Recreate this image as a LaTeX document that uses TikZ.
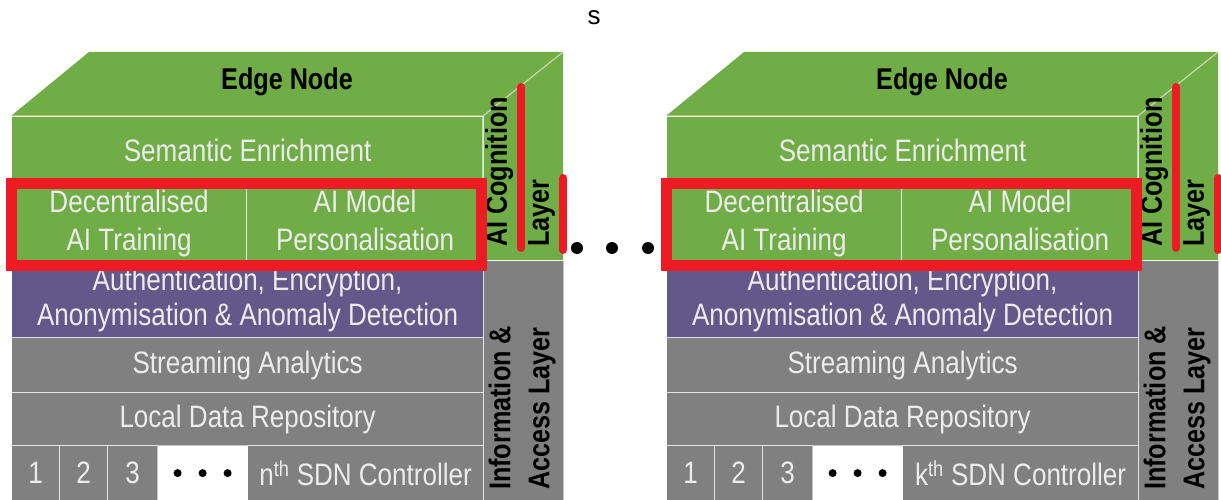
\documentclass[tikz,border=0pt]{standalone}
\usepackage{fontspec}
\setmainfont{Liberation Sans}
\newfontfamily\narrowfont[FakeStretch=0.84]{Liberation Sans}

\definecolor{edgegreen}{RGB}{112,173,71}
\definecolor{secpurple}{RGB}{98,88,138}
\definecolor{layergray}{RGB}{128,128,128}
\definecolor{markred}{RGB}{237,28,36}
\definecolor{labelgray}{RGB}{236,236,236}

\tikzset{
  cell/.style={rectangle, draw=white, draw opacity=0.55, line width=1.2pt,
    inner sep=0pt, anchor=north west, text=labelgray, align=center,
    font={\narrowfont\fontsize{31}{38}\selectfont}},
  edgeline/.style={draw=white, draw opacity=0.55, line width=1.2pt},
  sidelabel/.style={rotate=90, inner sep=0pt, align=left, text=black,
    font={\narrowfont\bfseries\fontsize{30}{42}\selectfont}},
  toplabel/.style={inner sep=0pt, text=black,
    font={\narrowfont\bfseries\fontsize{30}{36}\selectfont}},
  redbar/.style={draw=markred, line width=8pt, line cap=round},
  redbox/.style={draw=markred, line width=11pt},
  bigdot/.style={circle, fill=black, minimum size=12pt, inner sep=0pt},
  smalldot/.style={circle, fill=black, minimum size=8pt, inner sep=0pt}
}

% One edge node: a box with a green top, layered front face and a side column.
% #1 = name prefix, #2 = ordinal letter of the last SDN controller
\newcommand\edgeblock[2]{%
\begin{scope}[name prefix=#1-]
  % top face and upper side face
  \fill[edgegreen] (11,116) -- (89,52) -- (563,52) -- (563,260)
    -- (483,260) -- (483,116) -- cycle;
  \node[toplabel] (title) at (287,82) {Edge Node};
  % front face layers
  \node[cell, fill=edgegreen, minimum width=472pt, minimum height=67pt]
    (sem) at (11,116) {Semantic Enrichment};
  \node[cell, fill=edgegreen, minimum width=235pt, minimum height=81pt]
    (train) at (11,183) {\strut Decentralised\\AI Training\strut};
  \node[cell, fill=edgegreen, minimum width=237pt, minimum height=81pt]
    (pers) at (246,183) {\strut AI Model\\Personalisation\strut};
  \node[cell, fill=secpurple, minimum width=472pt, minimum height=73pt,
    font={\narrowfont\fontsize{31}{35}\selectfont}]
    (sec) at (11,264) {\strut Authentication, Encryption,\\Anonymisation \& Anomaly Detection\strut};
  \node[cell, fill=layergray, minimum width=472pt, minimum height=55pt]
    (stream) at (11,337) {Streaming Analytics};
  \node[cell, fill=layergray, minimum width=472pt, minimum height=53pt]
    (repo) at (11,392) {Local Data Repository};
  % SDN controller row
  \node[cell, fill=layergray, minimum width=48pt, minimum height=55pt] (c1) at (11,445) {1};
  \node[cell, fill=layergray, minimum width=48pt, minimum height=55pt] (c2) at (59,445) {2};
  \node[cell, fill=layergray, minimum width=50pt, minimum height=55pt] (c3) at (107,445) {3};
  \node[cell, fill=white, draw=none, minimum width=90pt, minimum height=55pt] (gap) at (157,445) {};
  \node[smalldot] (g1) at ([xshift=-25pt]gap.center) {};
  \node[smalldot] (g2) at (gap.center) {};
  \node[smalldot] (g3) at ([xshift=25pt]gap.center) {};
  \node[cell, fill=layergray, minimum width=236pt, minimum height=55pt]
    (ctrl) at (247,445) {#2\textsuperscript{th} SDN Controller};
  % side column
  \node[cell, fill=layergray, minimum width=80pt, minimum height=240pt] (info) at (483,260) {};
  \draw[edgeline] (11,116) -- (483,116) -- (563,52);
  \draw[edgeline] (483,116) -- (483,260);
  \node[sidelabel, anchor=west] (coglbl) at (520,247) {AI Cognition\\Layer};
  \node[sidelabel, anchor=west, font={\narrowfont\bfseries\fontsize{30}{39}\selectfont}]
    (infolbl) at (522,490) {Information \&\\Access Layer};
  % highlights
  \draw[redbox] (train.north west) rectangle ([xshift=-3pt]pers.south east);
  \draw[redbar] (521,87) -- (521,248);
  \draw[redbar] (563,178) -- (563,250);
\end{scope}}

\begin{document}
\begin{tikzpicture}[x=1pt, y=-1pt]
  \useasboundingbox (0,0) rectangle (1221,500);
  \fill[white] (0,0) rectangle (1221,500);
  \node[font={\fontsize{26}{30}\selectfont}, inner sep=0pt] (mark) at (594,17.5) {s};
  \edgeblock{L}{n}
  \begin{scope}[xshift=655pt]
    \edgeblock{R}{k}
  \end{scope}
  \node[bigdot] (dot1) at (577,248) {};
  \node[bigdot] (dot2) at (612,248) {};
  \node[bigdot] (dot3) at (648,248) {};
\end{tikzpicture}
\end{document}
